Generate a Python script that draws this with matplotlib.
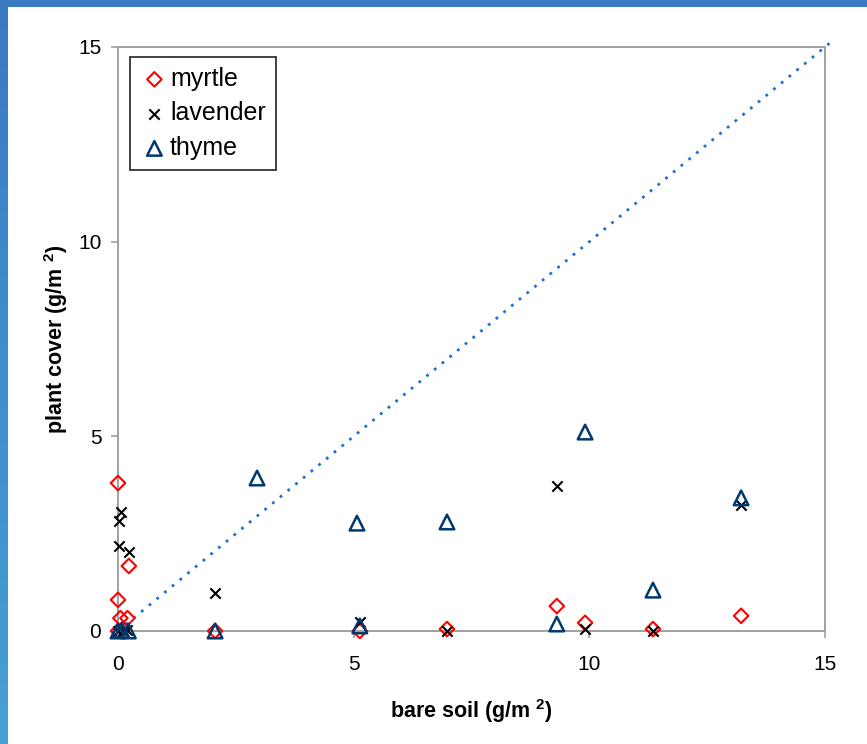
import numpy as np
import matplotlib
matplotlib.use("Agg")
import matplotlib.pyplot as plt
from matplotlib.patches import Rectangle
from matplotlib.colors import LinearSegmentedColormap

plt.rcParams['font.family'] = ['Liberation Sans', 'DejaVu Sans']
plt.rcParams['mathtext.fontset'] = 'custom'
plt.rcParams['mathtext.rm'] = 'Liberation Sans'
plt.rcParams['mathtext.bf'] = 'Liberation Sans:bold'

# ---- data ----
myrtle_x = [0.0, 0.0, 0.23, 0.05, 0.2, 0.0, 0.1, 2.06, 5.13, 6.98, 9.31, 9.91, 11.35, 13.22]
myrtle_y = [3.80, 0.80, 1.67, 0.33, 0.33, 0.0, 0.05, 0.0, 0.0, 0.05, 0.64, 0.21, 0.05, 0.39]

lavender_x = [0.06, 0.02, 0.02, 0.23, 0.0, 0.1, 0.2, 2.06, 5.13, 6.98, 9.31, 9.91, 11.35, 13.22]
lavender_y = [3.06, 2.83, 2.18, 2.03, 0.0, 0.0, 0.02, 0.98, 0.23, 0.0, 3.73, 0.05, 0.0, 3.24]

thyme_x = [0.0, 0.08, 0.22, 2.06, 2.95, 5.07, 5.13, 6.98, 9.31, 9.91, 11.35, 13.22]
thyme_y = [0.0, 0.02, 0.0, 0.0, 3.93, 2.77, 0.13, 2.80, 0.18, 5.11, 1.05, 3.42]

trend_x = [0.0, 15.15]
trend_y = [0.0, 15.15]

ticks = [0, 5, 10, 15]
xlabel = r"bare soil (g/m $^{\mathbf{2}}$)"
ylabel = r"plant cover (g/m $^{\mathbf{2}}$)"

# ---- figure ----
fig = plt.figure(figsize=(8.67, 7.44), dpi=100)
fig.patch.set_facecolor('white')

# blue frame: top band and left gradient band
fig.patches.append(Rectangle((0, 1 - 7/744), 1, 7/744, transform=fig.transFigure,
                             facecolor='#3B7BC4', edgecolor='none', zorder=0))
gax = fig.add_axes([0, 0, 8/867, 1 - 7/744])
grad = np.linspace(0, 1, 256).reshape(-1, 1)
cmap = LinearSegmentedColormap.from_list('b', ['#3B7BC4', '#46A0D6'])
gax.imshow(grad, aspect='auto', cmap=cmap, extent=[0, 1, 0, 1], origin='upper')
gax.set_axis_off()

ax = fig.add_axes([118/867, (744-631)/744, (825-118)/867, (631-47)/744])
ax.set_xlim(0, 15)
ax.set_ylim(0, 15)

ax.plot(trend_x, trend_y, color='#1F70D0', lw=2.0, linestyle=(0, (1, 2.6)),
        clip_on=False, zorder=2)

ax.scatter(myrtle_x, myrtle_y, marker='D', s=55, facecolors='none',
           edgecolors='#FF0000', linewidths=1.5, label='myrtle', clip_on=False, zorder=3)
ax.scatter(lavender_x, lavender_y, marker='x', s=55, color='black',
           linewidths=1.5, label='lavender', clip_on=False, zorder=4)
ax.scatter(thyme_x, thyme_y, marker='^', s=110, facecolors='none',
           edgecolors='#003870', linewidths=1.8, label='thyme', clip_on=False, zorder=5)

for s in ax.spines.values():
    s.set_color('#A0A0A0')
    s.set_linewidth(1.4)

ax.set_xticks(ticks)
ax.set_yticks(ticks)
ax.tick_params(axis='both', direction='out', length=5, width=1.2, color='#A0A0A0',
               labelsize=15, labelcolor='black')
ax.tick_params(axis='y', pad=7)
ax.tick_params(axis='x', pad=12)

ax.set_xlabel(xlabel, fontsize=15.5, fontweight='bold', labelpad=17)
ax.set_ylabel(ylabel, fontsize=15.5, fontweight='bold', labelpad=6)

leg = ax.legend(loc='upper left', bbox_to_anchor=(0.017, 0.983), fontsize=18,
                frameon=True, fancybox=False, handletextpad=0.05, handlelength=1.15,
                borderpad=0.4, labelspacing=0.42, borderaxespad=0.0)
leg.get_frame().set_edgecolor('black')
leg.get_frame().set_linewidth(1.3)

fig.savefig('out.png', dpi=100)
